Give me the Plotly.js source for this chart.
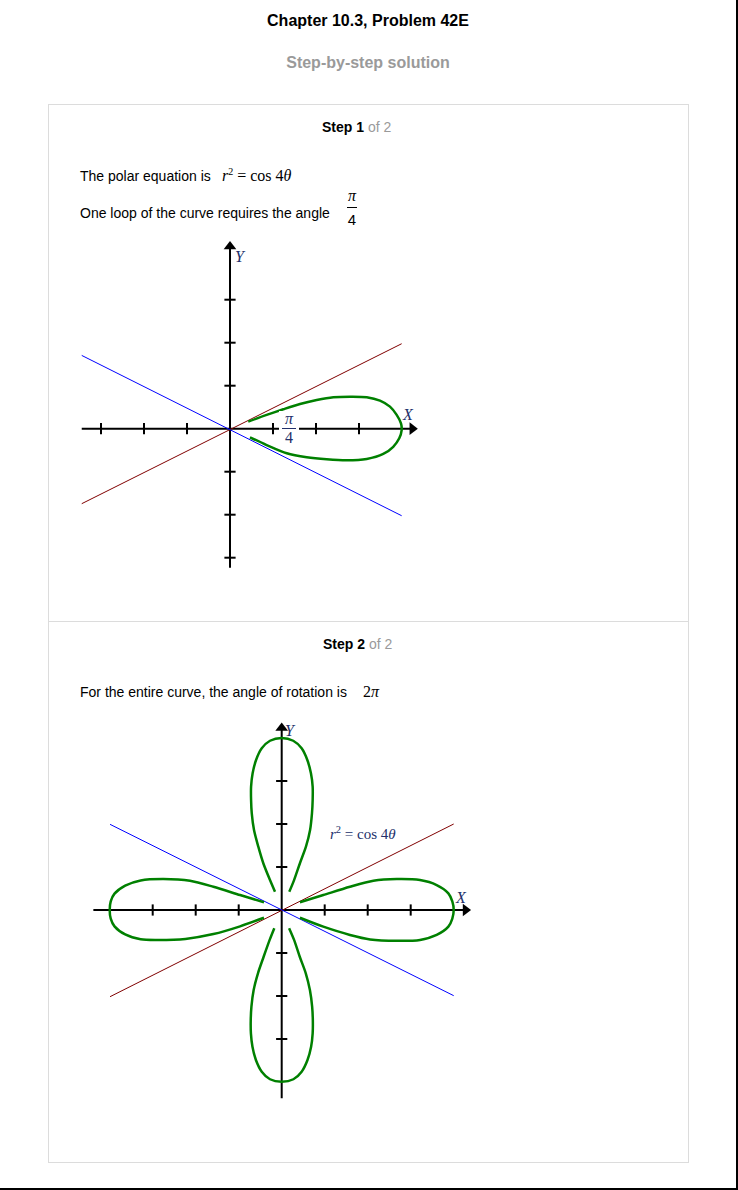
<!DOCTYPE html>
<html>
<head>
<meta charset="utf-8">
<script src="https://cdn.plot.ly/plotly-3.0.1.min.js"></script>
<style>
  html, body { margin:0; padding:0; background:#fff; }
  body { width:738px; height:1190px; position:relative; overflow:hidden;
         font-family:"Liberation Sans", Arial, sans-serif; color:#000; }
  .frame { position:absolute; left:0; top:0; width:736px; height:1188px;
           border-right:2px solid #000; border-bottom:2px solid #000; }
  .abs { position:absolute; white-space:nowrap; }
  .title { left:0; width:736px; text-align:center; font-weight:bold; font-size:16px; line-height:20px; }
  .box { position:absolute; left:48px; top:104px; width:641px; height:1059px;
         box-sizing:border-box; border:1px solid #dcdcdc; }
  .divider { position:absolute; left:48px; top:621px; width:641px; height:1px; background:#dcdcdc; }
  .step { font-size:14px; line-height:16px; }
  .step b { font-weight:bold; }
  .step span { color:#9a9a9a; }
  .txt { font-size:14px; line-height:16px; }
  .m { font-family:"Liberation Serif", "Times New Roman", serif; font-size:16px; line-height:18px; }
  .m sup { font-size:10px; position:relative; top:-6px; vertical-align:baseline; line-height:10px; }
  .frac { position:absolute; text-align:center; }
  .plot { position:absolute; }
</style>
</head>
<body>
<div class="frame"></div>
<div class="abs title" style="top:11px;">Chapter 10.3, Problem 42E</div>
<div class="abs title" style="top:53px;color:#9a9a9a;">Step-by-step solution</div>
<div class="box"></div>
<div class="divider"></div>

<div class="abs step" style="left:322px;top:119px;"><b>Step 1</b> <span>of 2</span></div>
<div class="abs txt" style="left:80px;top:168px;">The polar equation is</div>
<div class="abs m" style="left:222px;top:167px;"><i>r</i><sup>2</sup> = cos 4<i>θ</i></div>
<div class="abs txt" style="left:80px;top:205px;">One loop of the curve requires the angle</div>
<div class="frac" style="left:343px;top:187px;width:18px;">
  <div class="m" style="font-style:italic;line-height:17px;height:17px;">π</div>
  <div style="height:1px;background:#000;margin:3px 4px 0 4px;"></div>
  <div style="font-size:15px;line-height:17px;height:17px;margin-top:3px;">4</div>
</div>

<div id="g1" class="plot" style="left:60px;top:230px;width:380px;height:350px;"></div>
<div class="frac" style="left:279px;top:411px;width:20px;height:37px;background:#fff;color:#22306a;">
  <div class="m" style="font-style:italic;line-height:16px;height:17px;">π</div>
  <div style="height:1px;background:#22306a;margin:0 3px;"></div>
  <div class="m" style="line-height:17px;height:17px;">4</div>
</div>

<div class="abs step" style="left:323px;top:636px;"><b>Step 2</b> <span>of 2</span></div>
<div class="abs txt" style="left:80px;top:684px;">For the entire curve, the angle of rotation is</div>
<div class="abs m" style="left:363px;top:683px;">2<i>π</i></div>

<div id="g2" class="plot" style="left:80px;top:705px;width:410px;height:405px;"></div>

<script>
// ---------- data (units: petal tip = 1) ----------
const tickValues = [-0.75, -0.5, -0.25, 0.25, 0.5, 0.75];

// Step 1 graph
const g1AxisX = [-0.862, 1.06];
const g1AxisY = [-0.808, 1.06];
const g1RedX = [-0.862, 0.998];
const g1RedY = [-0.436, 0.494];
const g1BlueX = [-0.862, 0.998];
const g1BlueY = [0.426, -0.506];
const g1LoopX = [0.106,0.213,0.310,0.407,0.504,0.601,0.698,0.795,0.872,0.930,0.969,0.994,0.998,0.984,0.949,0.891,0.795,0.678,0.562,0.446,0.330,0.213,0.116];
const g1LoopY = [0.041,0.080,0.113,0.144,0.167,0.183,0.186,0.183,0.163,0.128,0.080,0.031,-0.008,-0.056,-0.105,-0.147,-0.176,-0.184,-0.178,-0.166,-0.143,-0.095,-0.050];

// Step 2 graph
const g2AxisX = [-1.095, 1.069];
const g2AxisY = [-1.095, 1.058];
const g2RedX = [-0.998, 1.0];
const g2RedY = [-0.504, 0.500];
const g2BlueX = [-0.998, 1.0];
const g2BlueY = [0.498, -0.498];
const rightPetalX = [0.106,0.242,0.397,0.533,0.669,0.804,0.901,0.969,0.992,1.0,0.992,0.969,0.901,0.804,0.669,0.514,0.397,0.242,0.106];
const rightPetalY = [0.045,0.087,0.135,0.170,0.180,0.174,0.145,0.097,0.050,0,-0.050,-0.097,-0.145,-0.174,-0.179,-0.171,-0.145,-0.097,-0.045];
const leftPetalX = [-0.103,-0.242,-0.397,-0.533,-0.688,-0.820,-0.910,-0.972,-0.994,-1.0,-0.994,-0.972,-0.910,-0.820,-0.727,-0.560,-0.397,-0.242,-0.103];
const leftPetalY = [0.045,0.087,0.135,0.170,0.180,0.172,0.142,0.095,0.050,0,-0.050,-0.095,-0.142,-0.170,-0.174,-0.168,-0.140,-0.095,-0.045];
const topPetalX = [-0.039,-0.068,-0.107,-0.136,-0.161,-0.174,-0.178,-0.178,-0.169,-0.149,-0.116,-0.068,0,0.067,0.116,0.149,0.170,0.180,0.180,0.176,0.165,0.141,0.106,0.072,0.044];
const topPetalY = [0.106,0.174,0.272,0.368,0.465,0.562,0.640,0.717,0.795,0.872,0.940,0.984,1.0,0.984,0.940,0.872,0.795,0.717,0.640,0.562,0.465,0.368,0.272,0.174,0.106];
const bottomPetalX = [-0.043,-0.070,-0.105,-0.138,-0.163,-0.176,-0.180,-0.179,-0.170,-0.150,-0.116,-0.068,0,0.068,0.116,0.150,0.171,0.180,0.181,0.177,0.164,0.140,0.105,0.072,0.043];
const bottomPetalY = [-0.106,-0.174,-0.272,-0.368,-0.465,-0.562,-0.640,-0.717,-0.795,-0.872,-0.940,-0.984,-0.998,-0.984,-0.940,-0.872,-0.795,-0.717,-0.640,-0.562,-0.465,-0.368,-0.272,-0.174,-0.106];

// ---------- drawing ----------
const SCALE = 172; // px per unit
const GREEN = '#008000', RED = '#800000', BLUE = '#0000ff', LABEL = '#22306a';

function line(x, y, color, width, spline) {
  return {type:'scatter', mode:'lines', x:x, y:y, hoverinfo:'skip',
          line:{color:color, width:width, shape: spline ? 'spline' : 'linear', smoothing:0.8}};
}
function axes(ax, ay) {
  const zeros = tickValues.map(() => 0);
  return [
    line(ax, [0,0], '#000', 2),
    line([0,0], ay, '#000', 2),
    {type:'scatter', mode:'markers', x:tickValues, y:zeros, hoverinfo:'skip',
     marker:{symbol:'line-ns', size:8, line:{width:2, color:'#000'}}},
    {type:'scatter', mode:'markers', x:zeros, y:tickValues, hoverinfo:'skip',
     marker:{symbol:'line-ew', size:8, line:{width:2, color:'#000'}}},
    {type:'scatter', mode:'markers', x:[ax[1]], y:[0], hoverinfo:'skip',
     marker:{symbol:'triangle-right', size:11, color:'#000'}},
    {type:'scatter', mode:'markers', x:[0], y:[ay[1]], hoverinfo:'skip',
     marker:{symbol:'triangle-up', size:11, color:'#000'}}
  ];
}
function layoutFor(w, h, ox, oy, annotations) {
  return {
    width:w, height:h, margin:{l:0, r:0, t:0, b:0}, showlegend:false,
    paper_bgcolor:'rgba(0,0,0,0)', plot_bgcolor:'rgba(0,0,0,0)',
    xaxis:{range:[-ox/SCALE, (w-ox)/SCALE], visible:false, fixedrange:true},
    yaxis:{range:[-(h-oy)/SCALE, oy/SCALE], visible:false, fixedrange:true},
    annotations: annotations
  };
}
function lab(x, y, text, size) {
  return {x:x, y:y, xref:'x', yref:'y', text:text, showarrow:false,
          font:{family:'Liberation Serif, Times New Roman, serif', size:size || 16, color:LABEL}};
}

// graph 1: div at (60,230) size 380x350, origin at page (230,428.7)
Plotly.newPlot('g1',
  axes(g1AxisX, g1AxisY).concat([
    line(g1RedX, g1RedY, RED, 1),
    line(g1BlueX, g1BlueY, BLUE, 1),
    line(g1LoopX, g1LoopY, GREEN, 2.5, true)
  ]),
  layoutFor(380, 350, 230-60, 428.7-230, [
    lab(1.037, 0.080, '<i>X</i>'),
    lab(0.060, 1.000, '<i>Y</i>')
  ]),
  {staticPlot:true, displayModeBar:false});

// graph 2: div at (80,705) size 410x405, origin at page (281.7,910)
Plotly.newPlot('g2',
  axes(g2AxisX, g2AxisY).concat([
    line(g2RedX, g2RedY, RED, 1),
    line(g2BlueX, g2BlueY, BLUE, 1),
    line(rightPetalX, rightPetalY, GREEN, 2.5, true),
    line(leftPetalX, leftPetalY, GREEN, 2.5, true),
    line(topPetalX, topPetalY, GREEN, 2.5, true),
    line(bottomPetalX, bottomPetalY, GREEN, 2.5, true)
  ]),
  layoutFor(410, 405, 281.7-80, 910-705, [
    lab(1.042, 0.070, '<i>X</i>'),
    lab(0.050, 1.042, '<i>Y</i>'),
    lab(0.470, 0.446, '<i>r</i><sup>2</sup> = cos 4<i>θ</i>', 15)
  ]),
  {staticPlot:true, displayModeBar:false});
</script>
</body>
</html>
